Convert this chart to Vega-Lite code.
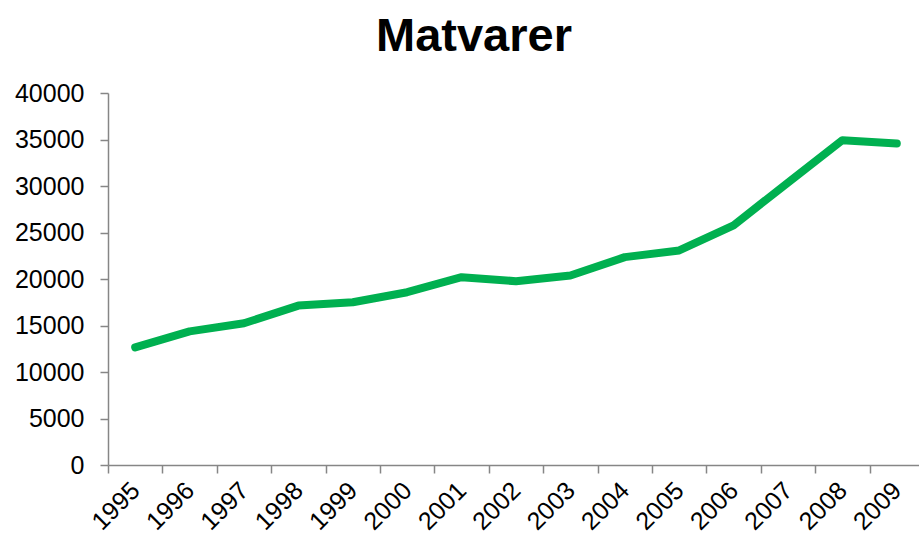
{
  "$schema": "https://vega.github.io/schema/vega-lite/v6.json",
  "autosize": "none",
  "width": 816,
  "height": 372,
  "padding": {"left": 108, "top": 93, "right": 0, "bottom": 71},
  "background": "white",
  "title": {
    "text": "Matvarer",
    "font": "Liberation Sans",
    "fontSize": 47,
    "fontWeight": "bold",
    "color": "black",
    "anchor": "middle",
    "frame": "group",
    "baseline": "alphabetic",
    "offset": 20,
    "dx": -42,
    "dy": 37
  },
  "config": {
    "view": {"stroke": null},
    "axis": {
      "labelFont": "Liberation Sans",
      "labelFontSize": 25,
      "labelColor": "black",
      "domainColor": "#868686",
      "tickColor": "#868686",
      "domainWidth": 1.5,
      "tickWidth": 1.5,
      "grid": false,
      "title": null
    }
  },
  "data": {
    "values": [
      {"year": "1995", "value": 12650},
      {"year": "1996", "value": 14370},
      {"year": "1997", "value": 15240},
      {"year": "1998", "value": 17140},
      {"year": "1999", "value": 17500},
      {"year": "2000", "value": 18580},
      {"year": "2001", "value": 20200},
      {"year": "2002", "value": 19760},
      {"year": "2003", "value": 20380},
      {"year": "2004", "value": 22350},
      {"year": "2005", "value": 23070},
      {"year": "2006", "value": 25770},
      {"year": "2007", "value": 30370},
      {"year": "2008", "value": 34930},
      {"year": "2009", "value": 34570}
    ]
  },
  "mark": {"type": "line", "color": "#00B050", "strokeWidth": 8, "strokeCap": "round", "strokeJoin": "round"},
  "encoding": {
    "x": {
      "field": "year",
      "type": "ordinal",
      "scale": {"type": "band", "paddingInner": 0, "paddingOuter": 0},
      "axis": {
        "labelAngle": -45,
        "labelAlign": "right",
        "labelBaseline": "middle",
        "labelPadding": 13,
        "tickBand": "extent",
        "tickSize": 8
      }
    },
    "y": {
      "field": "value",
      "type": "quantitative",
      "scale": {"domain": [0, 40000], "nice": false},
      "axis": {
        "values": [0, 5000, 10000, 15000, 20000, 25000, 30000, 35000, 40000],
        "format": "d",
        "tickSize": 8,
        "labelPadding": 16
      }
    }
  }
}
